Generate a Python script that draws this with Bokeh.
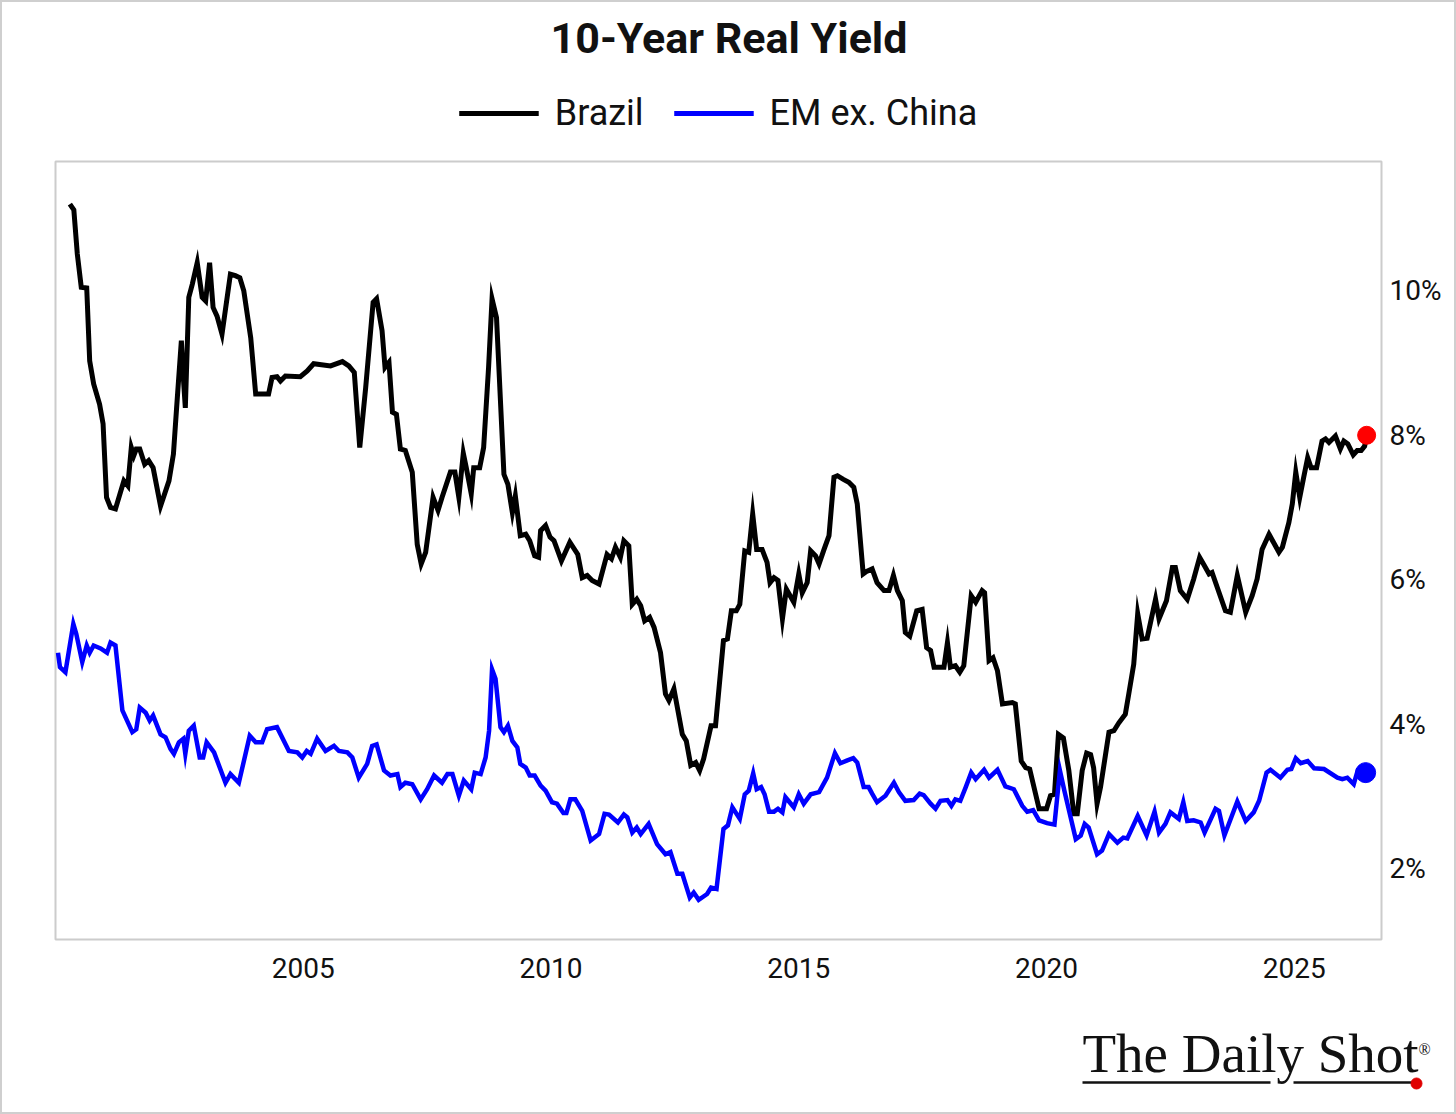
from bokeh.plotting import figure
from bokeh.layouts import column
from bokeh.models import Range1d, FixedTicker, PrintfTickFormatter, Legend, LegendItem, Label
from bokeh.core.properties import value
from bokeh.embed import file_html
from bokeh.resources import INLINE

# ---------------- data ----------------
brazil_dates = [2000.29, 2000.37, 2000.44, 2000.52, 2000.63, 2000.69, 2000.77, 2000.89, 2000.96, 2001.03,
                2001.11, 2001.21, 2001.38, 2001.46, 2001.53, 2001.58, 2001.63, 2001.70, 2001.80, 2001.88,
                2001.97, 2002.12, 2002.29, 2002.38, 2002.44, 2002.54, 2002.58, 2002.62, 2002.69, 2002.76,
                2002.86, 2002.96, 2003.03, 2003.11, 2003.18, 2003.26, 2003.36, 2003.53, 2003.63, 2003.72,
                2003.80, 2003.94, 2004.04, 2004.30, 2004.37, 2004.47, 2004.54, 2004.64, 2004.94, 2005.08,
                2005.21, 2005.55, 2005.79, 2005.92, 2006.03, 2006.14, 2006.26, 2006.41, 2006.48, 2006.59,
                2006.65, 2006.73, 2006.80, 2006.88, 2006.96, 2007.06, 2007.20, 2007.30, 2007.38, 2007.47,
                2007.62, 2007.72, 2007.80, 2007.97, 2008.06, 2008.14, 2008.23, 2008.29, 2008.39, 2008.44,
                2008.56, 2008.64, 2008.74, 2008.81, 2008.90, 2009.05, 2009.13, 2009.22, 2009.28, 2009.38,
                2009.49, 2009.57, 2009.67, 2009.75, 2009.79, 2009.89, 2009.98, 2010.06, 2010.21, 2010.38,
                2010.54, 2010.63, 2010.73, 2010.83, 2010.97, 2011.13, 2011.22, 2011.30, 2011.40, 2011.47,
                2011.57, 2011.64, 2011.73, 2011.81, 2011.89, 2011.99, 2012.08, 2012.21, 2012.31, 2012.38,
                2012.48, 2012.65, 2012.73, 2012.82, 2012.92, 2013.00, 2013.08, 2013.23, 2013.32, 2013.48,
                2013.56, 2013.64, 2013.74, 2013.81, 2013.91, 2013.99, 2014.07, 2014.15, 2014.26, 2014.36,
                2014.42, 2014.50, 2014.58, 2014.67, 2014.75, 2014.90, 2015.00, 2015.07, 2015.17, 2015.24,
                2015.34, 2015.41, 2015.51, 2015.61, 2015.71, 2015.78, 2015.90, 2016.01, 2016.11, 2016.18,
                2016.30, 2016.38, 2016.48, 2016.58, 2016.72, 2016.82, 2016.91, 2016.99, 2017.09, 2017.15,
                2017.24, 2017.38, 2017.49, 2017.58, 2017.66, 2017.73, 2017.93, 2018.00, 2018.06, 2018.16,
                2018.25, 2018.33, 2018.48, 2018.57, 2018.70, 2018.75, 2018.84, 2018.92, 2019.01, 2019.11,
                2019.31, 2019.37, 2019.49, 2019.58, 2019.66, 2019.85, 2020.00, 2020.08, 2020.16, 2020.24,
                2020.34, 2020.45, 2020.55, 2020.62, 2020.72, 2020.81, 2020.89, 2020.95, 2021.02, 2021.09,
                2021.26, 2021.36, 2021.46, 2021.59, 2021.66, 2021.76, 2021.84, 2021.93, 2022.03, 2022.20,
                2022.27, 2022.42, 2022.54, 2022.60, 2022.70, 2022.84, 2022.97, 2023.09, 2023.19, 2023.28,
                2023.34, 2023.61, 2023.71, 2023.85, 2024.02, 2024.15, 2024.25, 2024.35, 2024.49, 2024.69,
                2024.76, 2024.89, 2024.96, 2025.03, 2025.11, 2025.19, 2025.27, 2025.34, 2025.45, 2025.56,
                2025.63, 2025.70, 2025.83, 2025.93, 2026.00, 2026.08, 2026.19, 2026.27, 2026.35, 2026.42,
                2026.46]
brazil_values = [11.20, 11.12, 10.51, 10.05, 10.04, 9.03, 8.71, 8.43, 8.16, 7.14,
                 7.00, 6.98, 7.37, 7.30, 7.83, 7.72, 7.81, 7.81, 7.60, 7.65,
                 7.55, 7.02, 7.37, 7.74, 8.34, 9.31, 8.80, 8.38, 9.91, 10.09,
                 10.39, 9.91, 9.86, 10.39, 9.77, 9.65, 9.40, 10.23, 10.21, 10.18,
                 10.00, 9.35, 8.57, 8.57, 8.80, 8.81, 8.75, 8.82, 8.81, 8.89,
                 8.99, 8.96, 9.02, 8.96, 8.87, 7.83, 8.66, 9.84, 9.89, 9.45,
                 8.94, 9.01, 8.32, 8.29, 7.81, 7.79, 7.49, 6.49, 6.22, 6.38,
                 7.14, 6.96, 7.14, 7.49, 7.49, 7.14, 7.75, 7.55, 7.19, 7.55,
                 7.55, 7.83, 8.94, 9.89, 9.63, 7.46, 7.32, 6.93, 7.16, 6.61,
                 6.63, 6.54, 6.33, 6.31, 6.68, 6.75, 6.59, 6.54, 6.26, 6.52,
                 6.35, 6.03, 6.06, 5.99, 5.94, 6.35, 6.29, 6.45, 6.31, 6.54,
                 6.47, 5.66, 5.73, 5.64, 5.43, 5.48, 5.34, 4.99, 4.42, 4.33,
                 4.49, 3.86, 3.77, 3.43, 3.47, 3.36, 3.52, 3.98, 3.98, 5.16,
                 5.18, 5.57, 5.57, 5.66, 6.40, 6.38, 6.91, 6.42, 6.42, 6.24,
                 5.96, 6.03, 5.99, 5.46, 5.87, 5.69, 6.08, 5.82, 5.96, 6.40,
                 6.33, 6.22, 6.42, 6.61, 7.42, 7.44, 7.39, 7.35, 7.28, 7.05,
                 6.08, 6.12, 6.15, 5.96, 5.85, 5.85, 6.06, 5.85, 5.71, 5.27,
                 5.22, 5.57, 5.59, 5.06, 5.02, 4.79, 4.79, 5.13, 4.79, 4.81,
                 4.72, 4.81, 5.78, 5.69, 5.85, 5.82, 4.88, 4.92, 4.74, 4.28,
                 4.30, 4.28, 3.49, 3.40, 3.38, 2.83, 2.83, 3.01, 3.03, 3.86,
                 3.81, 3.36, 2.76, 2.76, 3.36, 3.60, 3.58, 3.40, 2.90, 3.13,
                 3.89, 3.91, 4.02, 4.14, 4.42, 4.83, 5.53, 5.18, 5.19, 5.73,
                 5.46, 5.71, 6.17, 6.17, 5.85, 5.73, 6.01, 6.31, 6.19, 6.08,
                 6.10, 5.57, 5.55, 6.06, 5.55, 5.78, 6.01, 6.42, 6.63, 6.38,
                 6.45, 6.79, 7.05, 7.49, 7.14, 7.42, 7.69, 7.55, 7.55, 7.92,
                 7.95, 7.90, 7.99, 7.81, 7.92, 7.88, 7.73, 7.79, 7.79, 7.85,
                 8.00]

em_dates = [2000.05, 2000.09, 2000.20, 2000.36, 2000.42, 2000.54, 2000.63, 2000.69, 2000.77, 2000.91,
            2001.04, 2001.11, 2001.21, 2001.35, 2001.55, 2001.63, 2001.70, 2001.82, 2001.90, 2001.97,
            2002.12, 2002.22, 2002.32, 2002.39, 2002.49, 2002.58, 2002.62, 2002.69, 2002.79, 2002.91,
            2002.98, 2003.05, 2003.20, 2003.43, 2003.53, 2003.70, 2003.92, 2004.04, 2004.17, 2004.27,
            2004.47, 2004.71, 2004.88, 2004.98, 2005.07, 2005.15, 2005.28, 2005.45, 2005.62, 2005.72,
            2005.89, 2005.99, 2006.12, 2006.29, 2006.39, 2006.48, 2006.63, 2006.76, 2006.90, 2006.96,
            2007.06, 2007.20, 2007.37, 2007.50, 2007.64, 2007.80, 2007.91, 2008.01, 2008.14, 2008.24,
            2008.39, 2008.46, 2008.58, 2008.68, 2008.75, 2008.81, 2008.88, 2008.98, 2009.05, 2009.13,
            2009.22, 2009.32, 2009.38, 2009.49, 2009.57, 2009.67, 2009.79, 2009.89, 2010.02, 2010.12,
            2010.25, 2010.31, 2010.39, 2010.49, 2010.63, 2010.80, 2010.97, 2011.08, 2011.17, 2011.35,
            2011.47, 2011.54, 2011.64, 2011.73, 2011.81, 2011.97, 2012.14, 2012.31, 2012.41, 2012.55,
            2012.65, 2012.80, 2012.88, 2012.98, 2013.15, 2013.23, 2013.34, 2013.48, 2013.57, 2013.66,
            2013.81, 2013.91, 2013.99, 2014.08, 2014.15, 2014.24, 2014.31, 2014.40, 2014.50, 2014.58,
            2014.67, 2014.73, 2014.90, 2015.00, 2015.10, 2015.24, 2015.41, 2015.57, 2015.73, 2015.84,
            2015.98, 2016.10, 2016.18, 2016.31, 2016.41, 2016.48, 2016.58, 2016.75, 2016.92, 2017.02,
            2017.15, 2017.32, 2017.44, 2017.52, 2017.66, 2017.76, 2017.86, 2018.00, 2018.08, 2018.16,
            2018.26, 2018.37, 2018.48, 2018.57, 2018.74, 2018.84, 2019.01, 2019.17, 2019.34, 2019.51,
            2019.61, 2019.73, 2019.85, 2020.01, 2020.16, 2020.27, 2020.36, 2020.59, 2020.69, 2020.77,
            2020.85, 2021.02, 2021.12, 2021.26, 2021.43, 2021.55, 2021.63, 2021.84, 2022.02, 2022.18,
            2022.27, 2022.40, 2022.50, 2022.67, 2022.76, 2022.84, 2022.97, 2023.11, 2023.19, 2023.41,
            2023.48, 2023.59, 2023.85, 2024.02, 2024.18, 2024.29, 2024.44, 2024.52, 2024.72, 2024.86,
            2024.94, 2025.03, 2025.13, 2025.27, 2025.40, 2025.60, 2025.87, 2025.97, 2026.07, 2026.20,
            2026.28, 2026.44]
em_values = [4.99, 4.79, 4.72, 5.39, 5.25, 4.86, 5.09, 4.99, 5.09, 5.05,
             4.99, 5.13, 5.09, 4.19, 3.89, 3.93, 4.23, 4.16, 4.05, 4.12,
             3.86, 3.82, 3.66, 3.59, 3.75, 3.80, 3.59, 3.91, 3.98, 3.54,
             3.54, 3.75, 3.61, 3.19, 3.31, 3.19, 3.84, 3.75, 3.75, 3.93,
             3.96, 3.63, 3.61, 3.54, 3.63, 3.59, 3.80, 3.63, 3.70, 3.63,
             3.61, 3.54, 3.26, 3.45, 3.70, 3.72, 3.36, 3.29, 3.31, 3.13,
             3.19, 3.17, 2.96, 3.10, 3.29, 3.19, 3.31, 3.31, 3.01, 3.22,
             3.10, 3.33, 3.31, 3.54, 3.91, 4.76, 4.63, 3.96, 3.89, 3.98,
             3.77, 3.68, 3.45, 3.40, 3.29, 3.29, 3.15, 3.08, 2.92, 2.90,
             2.77, 2.77, 2.96, 2.96, 2.80, 2.39, 2.48, 2.76, 2.75, 2.64,
             2.75, 2.71, 2.50, 2.57, 2.48, 2.62, 2.34, 2.20, 2.23, 1.93,
             1.93, 1.60, 1.67, 1.57, 1.65, 1.74, 1.72, 2.55, 2.60, 2.85,
             2.69, 3.03, 3.08, 3.32, 3.10, 3.13, 3.03, 2.79, 2.79, 2.83,
             2.78, 2.99, 2.85, 3.03, 2.90, 3.03, 3.06, 3.26, 3.60, 3.46,
             3.50, 3.53, 3.47, 3.13, 3.13, 3.04, 2.92, 3.01, 3.19, 3.06,
             2.94, 2.95, 3.04, 3.02, 2.90, 2.83, 2.94, 2.95, 2.87, 2.96,
             2.94, 3.13, 3.33, 3.24, 3.37, 3.26, 3.37, 3.14, 3.10, 2.87,
             2.79, 2.81, 2.67, 2.63, 2.61, 3.36, 3.08, 2.41, 2.46, 2.62,
             2.57, 2.20, 2.25, 2.48, 2.36, 2.43, 2.42, 2.73, 2.46, 2.79,
             2.50, 2.62, 2.78, 2.69, 2.92, 2.66, 2.67, 2.64, 2.50, 2.83,
             2.80, 2.46, 2.93, 2.66, 2.78, 2.94, 3.33, 3.37, 3.26, 3.37,
             3.38, 3.53, 3.46, 3.49, 3.39, 3.38, 3.26, 3.24, 3.26, 3.17,
             3.36, 3.33]

y_ticks = [2, 4, 6, 8, 10]
x_ticks = [2005, 2010, 2015, 2020, 2025]
series_labels = ["Brazil", "EM ex. China"]
series_colors = ["#000000", "#0000ff"]
title_text = "10-Year Real Yield"
logo_text = "The Daily Shot"

FONT = "Roboto"
W = 1452

# ---------------- header (title + legend) ----------------
hdr_h = 158
hdr = figure(width=W, height=hdr_h, output_backend="svg", toolbar_location=None,
             x_range=Range1d(0, W - 20), y_range=Range1d(0, hdr_h),
             min_border_left=0, min_border_right=20, min_border_top=0, min_border_bottom=0)
hdr.frame_align = False
hdr.axis.visible = False
hdr.grid.visible = False
hdr.outline_line_color = None
hdr.add_layout(Label(x=726.5, y=hdr_h - 35, text=title_text, text_align="center",
                     text_baseline="middle", text_font=FONT, text_font_size="43px",
                     text_font_style="bold", text_color="#111111"))
# legend swatches (lines kept outside the visible range; only the legend shows them)
d1 = hdr.line([-20, -10], [-20, -20], line_color=series_colors[0], line_width=5)
d2 = hdr.line([-20, -10], [-20, -20], line_color=series_colors[1], line_width=5)
legend = Legend(items=[LegendItem(label=series_labels[0], renderers=[d1]),
                       LegendItem(label=series_labels[1], renderers=[d2])],
                orientation="horizontal", location="bottom_center",
                border_line_color=None, background_fill_alpha=0,
                glyph_width=80, glyph_height=30, label_standoff=16, spacing=30,
                label_text_font=FONT, label_text_font_size="36px", label_text_color="#111111",
                margin=26, padding=2)
hdr.add_layout(legend)

# ---------------- main chart ----------------
main_h = 840
p = figure(width=W, height=main_h, output_backend="svg", toolbar_location=None,
           x_range=Range1d(2000.0, 2026.76), y_range=Range1d(1.02, 11.79),
           y_axis_location="right",
           min_border_left=53, min_border_right=73, min_border_top=1, min_border_bottom=61)
p.outline_line_color = "#cccccc"
p.outline_line_width = 2
p.xgrid.grid_line_color = None
p.ygrid.grid_line_color = None

p.line(brazil_dates, brazil_values, line_color=series_colors[0], line_width=5, line_join="miter")
p.line(em_dates, em_values, line_color=series_colors[1], line_width=4.5, line_join="miter")
p.scatter([brazil_dates[-1]], [brazil_values[-1]], size=18, color="#ff0000")
p.scatter([em_dates[-1]], [em_values[-1]], size=20, color=series_colors[1])

for ax in (p.xaxis[0], p.yaxis[0]):
    ax.axis_line_color = None
    ax.major_tick_line_color = None
    ax.minor_tick_line_color = None
    ax.major_label_text_font = FONT
    ax.major_label_text_font_size = "28px"
    ax.major_label_text_color = "#111111"
p.xaxis[0].ticker = FixedTicker(ticks=x_ticks)
p.xaxis[0].formatter = PrintfTickFormatter(format="%d")
p.xaxis[0].major_label_standoff = 12
p.yaxis[0].ticker = FixedTicker(ticks=y_ticks)
p.yaxis[0].formatter = PrintfTickFormatter(format="%d%%")
p.yaxis[0].major_label_standoff = 2

# ---------------- footer (logo) ----------------
ftr_h = 112
ftr = figure(width=W, height=ftr_h, output_backend="svg", toolbar_location=None,
             x_range=Range1d(0, W), y_range=Range1d(0, ftr_h),
             min_border_left=0, min_border_right=0, min_border_top=0, min_border_bottom=0)
ftr.frame_align = False
ftr.axis.visible = False
ftr.grid.visible = False
ftr.outline_line_color = None
ftr.text(x=[1080], y=[59], text=[logo_text], text_font=value("Liberation Serif"),
         text_font_size="55px", text_color="#111111", text_align="left", text_baseline="alphabetic")
ftr.text(x=[1416], y=[63], text=["\u00ae"], text_font=value("Liberation Serif"),
         text_font_size="16px", text_color="#111111", text_align="left", text_baseline="alphabetic")
ftr.segment(x0=[1080, 1291], y0=[30, 30], x1=[1268, 1411], y1=[30, 30], line_color="#111111", line_width=2.5)
ftr.scatter([1414], [29], size=11, color="#e00000")

layout = column(hdr, p, ftr, spacing=0)
layout.styles = {"border": "2px solid #cfcfcf"}

open("out.html", "w").write(file_html(layout, INLINE))
